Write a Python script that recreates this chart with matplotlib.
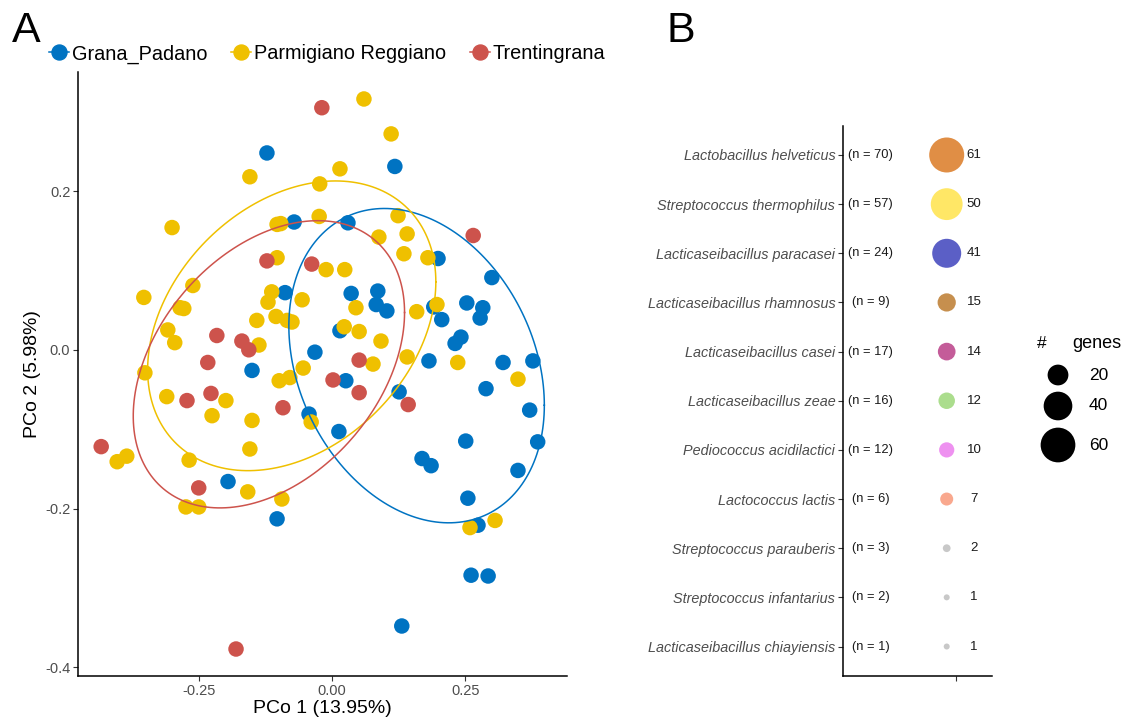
import numpy as np
import matplotlib
matplotlib.use("Agg")
import matplotlib.pyplot as plt
from matplotlib.lines import Line2D

plt.rcParams["font.family"] = ["Liberation Sans", "DejaVu Sans"]

# ---- panel A data (PCoA coordinates) ----
grana_x = [-0.122, 0.118, -0.071, 0.030, 0.199, 0.300, -0.088, 0.036, 0.086, 0.083, 0.103, 0.191, 0.206,
           0.253, 0.283, 0.278, 0.242, 0.231, 0.015, -0.032, 0.182, 0.321, 0.377, 0.026, 0.289, 0.126,
           -0.043, 0.013, 0.371, 0.251, 0.386, 0.169, 0.186, 0.349, 0.255, 0.274, 0.261, 0.293, 0.131,
           -0.150, -0.195, -0.103]
grana_y = [0.248, 0.231, 0.161, 0.160, 0.115, 0.091, 0.072, 0.071, 0.074, 0.057, 0.049, 0.054, 0.038,
           0.059, 0.053, 0.040, 0.016, 0.008, 0.024, -0.003, -0.014, -0.016, -0.014, -0.039, -0.049, -0.053,
           -0.081, -0.103, -0.076, -0.115, -0.116, -0.137, -0.146, -0.152, -0.187, -0.221, -0.284, -0.285,
           -0.348, -0.026, -0.166, -0.213]
parm_x = [0.060, 0.111, -0.154, 0.015, -0.023, -0.300, -0.103, -0.096, -0.024, 0.124, 0.141, 0.088, -0.103,
          0.135, 0.180, -0.011, 0.024, -0.261, -0.353, -0.285, -0.278, -0.113, -0.120, -0.056, 0.045, 0.159,
          0.197, -0.141, -0.105, -0.084, -0.075, 0.023, 0.051, -0.308, -0.295, -0.137, 0.092, 0.141, 0.077,
          0.236, -0.054, -0.079, -0.099, -0.351, 0.349, -0.039, -0.310, -0.199, -0.225, -0.150, -0.385,
          -0.403, -0.154, -0.268, -0.158, -0.094, -0.274, -0.250, 0.259, 0.306]
parm_y = [0.316, 0.272, 0.218, 0.228, 0.209, 0.154, 0.158, 0.159, 0.168, 0.169, 0.146, 0.142, 0.116,
          0.121, 0.116, 0.101, 0.101, 0.081, 0.066, 0.053, 0.052, 0.073, 0.060, 0.063, 0.053, 0.048,
          0.057, 0.037, 0.042, 0.037, 0.035, 0.029, 0.023, 0.025, 0.009, 0.006, 0.011, -0.009, -0.018,
          -0.016, -0.023, -0.035, -0.039, -0.029, -0.037, -0.091, -0.059, -0.064, -0.083, -0.089, -0.134,
          -0.141, -0.125, -0.139, -0.179, -0.188, -0.198, -0.198, -0.224, -0.215]
trent_x = [-0.019, -0.122, -0.038, 0.265, -0.216, -0.169, -0.156, -0.233, 0.002, 0.051, 0.051, 0.143,
           -0.092, -0.272, -0.227, -0.433, -0.250, -0.180]
trent_y = [0.305, 0.112, 0.108, 0.144, 0.018, 0.011, 0.000, -0.016, -0.038, -0.013, -0.054, -0.069,
           -0.073, -0.064, -0.055, -0.122, -0.174, -0.377]

groups = ["Grana_Padano", "Parmigiano Reggiano", "Trentingrana"]
group_colors = ["#0073C2", "#EFC000", "#CD534C"]
ellipse_level = 0.75

# ---- panel B data ----
species = ["Lactobacillus helveticus", "Streptococcus thermophilus", "Lacticaseibacillus paracasei",
           "Lacticaseibacillus rhamnosus", "Lacticaseibacillus casei", "Lacticaseibacillus zeae",
           "Pediococcus acidilactici", "Lactococcus lactis", "Streptococcus parauberis",
           "Streptococcus infantarius", "Lacticaseibacillus chiayiensis"]
n_genomes = [70, 57, 24, 9, 17, 16, 12, 6, 3, 2, 1]
n_genes = [61, 50, 41, 15, 14, 12, 10, 7, 2, 1, 1]
species_colors = ["#E08E45", "#FFE766", "#5B5FC6", "#C68F4E", "#C45C99", "#ABDD8D",
                  "#EE91F0", "#F9A88E", "#C8C8C8", "#C8C8C8", "#C8C8C8"]
legend_genes = [20, 40, 60]


def cov_trob(X, nu=5, tol=1e-6, maxit=200):
    # robust multivariate t estimate, as used by stat_ellipse
    n, p = X.shape
    loc = X.mean(axis=0)
    w = np.ones(n)
    for _ in range(maxit):
        w0 = w
        D = X - loc
        S = (w[:, None] * D).T @ D / w.sum()
        Q = np.einsum("ij,jk,ik->i", D, np.linalg.inv(S), D)
        w = (nu + p) / (nu + Q)
        loc = (w[:, None] * X).sum(axis=0) / w.sum()
        if np.all(np.abs(w - w0) < tol):
            break
    D = X - loc
    cov = (w[:, None] * D).T @ D / n
    return loc, cov


def ellipse_path(x, y, level=0.95, segments=200):
    X = np.column_stack([x, y])
    n = len(x)
    loc, cov = cov_trob(X)
    dfd = n - 1
    fq = dfd / 2 * ((1 - level) ** (-2 / dfd) - 1)  # F(2, dfd) quantile
    radius = np.sqrt(2 * fq)
    t = np.linspace(0, 2 * np.pi, segments)
    circle = np.column_stack([np.cos(t), np.sin(t)])
    chol = np.linalg.cholesky(cov).T
    pts = loc + radius * circle @ chol
    return pts[:, 0], pts[:, 1]


def pix(d):
    return d * 0.72  # px -> pt at 100 dpi


def gene_size(v):
    # ggplot-like area scale: diameter 6..35 px for 1..61 genes
    lo, hi = np.sqrt(1), np.sqrt(61)
    diam = 6 + 29 * (np.sqrt(np.asarray(v, float)) - lo) / (hi - lo)
    return pix(diam) ** 2


fig = plt.figure(figsize=(11.27, 7.2), dpi=100)

# ================= Panel A =================
axA = fig.add_axes([78 / 1127, 44 / 720, 489 / 1127, 604 / 720])
pts = [(grana_x, grana_y), (parm_x, parm_y), (trent_x, trent_y)]
for (gx, gy), col in zip(pts, group_colors):
    axA.scatter(gx, gy, s=pix(15.5) ** 2, color=col, edgecolors="none", zorder=2)
for (gx, gy), col in zip(pts, group_colors):
    ex, ey = ellipse_path(np.array(gx), np.array(gy), level=ellipse_level)
    axA.plot(ex, ey, color=col, lw=1.1, zorder=3)

axA.set_xlim(-0.4765, 0.441)
axA.set_ylim(-0.411, 0.350)
axA.set_xticks([-0.25, 0.0, 0.25])
axA.set_xticklabels(["-0.25", "0.00", "0.25"])
axA.set_yticks([-0.4, -0.2, 0.0, 0.2])
axA.set_yticklabels(["-0.4", "-0.2", "0.0", "0.2"])
for s in ["top", "right"]:
    axA.spines[s].set_visible(False)
for s in ["left", "bottom"]:
    axA.spines[s].set_linewidth(1.1)
axA.tick_params(axis="both", direction="out", length=3.5, width=0.8, color="#333333",
                labelcolor="#4D4D4D", labelsize=10.5, pad=2)
axA.set_xlabel("PCo 1 (13.95%)", fontsize=14, labelpad=2)
axA.set_ylabel("PCo 2 (5.98%)", fontsize=14, labelpad=3)

handles = [Line2D([], [], color=c, marker="o", markersize=pix(15), lw=1.1, label=g)
           for g, c in zip(groups, group_colors)]
fig.legend(handles=handles, loc="center left", bbox_to_anchor=(49 / 1127, 1 - 54 / 720),
           ncol=3, frameon=False, fontsize=14.3, handlelength=1.0, handletextpad=0.15,
           columnspacing=1.2, borderaxespad=0, borderpad=0)

fig.text(12 / 1127, 1 - 31 / 720, "A", fontsize=31, va="center", ha="left")
fig.text(666 / 1127, 1 - 31 / 720, "B", fontsize=31, va="center", ha="left")

# ================= Panel B =================
axB = fig.add_axes([843 / 1127, 44 / 720, 149 / 1127, 550.5 / 720])
rows = np.arange(len(species))
dot_x = np.full(len(species), 0.696)
axB.scatter(dot_x, rows, s=gene_size(n_genes), c=species_colors, edgecolors="none", zorder=2)
for r, n, g in zip(rows, n_genomes, n_genes):
    axB.text(0.185, r, f"(n = {n})", ha="center", va="center", fontsize=9.3, color="#1A1A1A")
    axB.text(0.879, r, str(g), ha="center", va="center", fontsize=9.5, color="#1A1A1A")
axB.set_xlim(0, 1)
axB.set_ylim(len(species) - 0.4, -0.6)
axB.set_yticks(rows)
axB.set_yticklabels(species, fontstyle="italic")
axB.set_xticks([0.758])
axB.set_xticklabels([""])
for s in ["top", "right"]:
    axB.spines[s].set_visible(False)
for s in ["left", "bottom"]:
    axB.spines[s].set_linewidth(1.1)
axB.tick_params(axis="both", direction="out", length=3.5, width=0.8, color="#333333",
                labelcolor="#4D4D4D", labelsize=10.4, pad=2)

# size legend
fig.text(1037 / 1127, 1 - 343 / 720, "#", fontsize=12.5, ha="left", va="center")
fig.text(1072 / 1127, 1 - 343 / 720, "genes", fontsize=13, ha="left", va="center")
leg_y = [375, 406, 445]
for v, yy in zip(legend_genes, leg_y):
    axL = fig.add_axes([1040 / 1127, (720 - yy - 20) / 720, 36 / 1127, 40 / 720])
    axL.scatter([0], [0], s=gene_size(v), color="black", edgecolors="none")
    axL.set_xlim(-1, 1)
    axL.set_ylim(-1, 1)
    axL.axis("off")
    fig.text(1089 / 1127, 1 - yy / 720, str(v), fontsize=12.5, ha="left", va="center")

fig.savefig("out.png", dpi=100)
